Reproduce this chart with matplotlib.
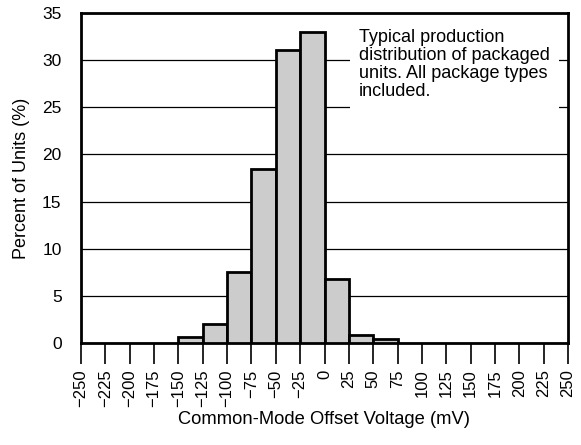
import numpy as np
import matplotlib.pyplot as plt

plt.rcParams['font.family'] = ['Liberation Sans', 'DejaVu Sans']

# bin left edges (mV) and percent of units
bin_left = [-150, -125, -100, -75, -50, -25, 0, 25, 50]
percent = [0.6, 2.0, 7.5, 18.5, 31.1, 33.0, 6.8, 0.9, 0.4]
bin_width = 25
x_ticks = list(range(-250, 251, 25))
y_ticks = [0, 5, 10, 15, 20, 25, 30, 35]
note = 'Typical production\ndistribution of packaged\nunits. All package types\nincluded.'

fig = plt.figure(figsize=(5.81, 4.45), dpi=100)
ax = fig.add_axes([81/581, 1 - 343/445, 487/581, 330/445])

ax.bar(bin_left, percent, width=bin_width, align='edge',
       color='#cccccc', edgecolor='black', linewidth=2, zorder=3)

ax.set_xlim(-250, 250)
ax.set_ylim(0, 35)
ax.set_xticks(x_ticks)
ax.set_xticklabels([str(t).replace('-', '\u2212') for t in x_ticks],
                   rotation=90, fontsize=12)
ax.set_yticks(y_ticks)
ax.tick_params(axis='y', length=0, labelsize=12.5, pad=14)
ax.tick_params(axis='x', length=15, width=1.2, direction='out', pad=4)
ax.yaxis.grid(True, color='black', linewidth=0.9, zorder=1)
ax.set_axisbelow(True)
for s in ax.spines.values():
    s.set_linewidth(2)

ax.set_xlabel('Common-Mode Offset Voltage (mV)', fontsize=13.2, labelpad=3)
ax.set_ylabel('Percent of Units (%)', fontsize=13, labelpad=9)

# note box with white background breaks the gridlines behind it
ax.text(359/581, 1 - 29/445, note, transform=fig.transFigure,
        fontsize=13, va='top', ha='left', linespacing=1.08, zorder=4,
        bbox=dict(facecolor='white', edgecolor='none', pad=6.5))

fig.savefig('out.png', dpi=100)
